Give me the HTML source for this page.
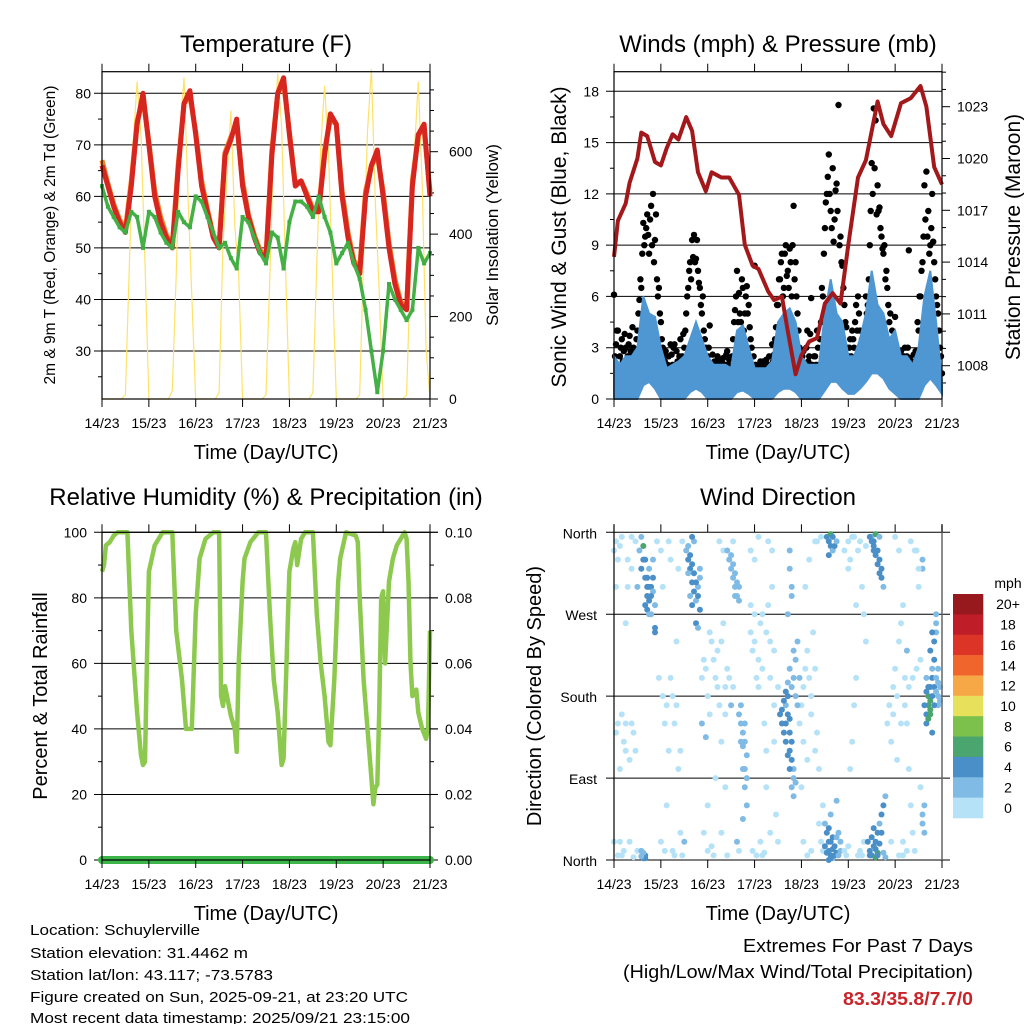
<!DOCTYPE html>
<html><head><meta charset="utf-8"><title>Station Meteogram</title>
<style>
html,body{margin:0;padding:0;background:#fff;}
svg{display:block;font-family:"Liberation Sans",sans-serif;}
</style></head>
<body>
<svg id="chart" width="1024" height="1024" viewBox="0 0 1024 1024" xmlns="http://www.w3.org/2000/svg">
<rect x="0" y="0" width="1024" height="1024" fill="#fff"/>
<g id="layer"></g>
<g font-size="15" fill="#000">
<text x="30" y="935" textLength="170" lengthAdjust="spacingAndGlyphs">Location: Schuylerville</text>
<text x="30" y="958" textLength="218" lengthAdjust="spacingAndGlyphs">Station elevation: 31.4462 m</text>
<text x="30" y="980" textLength="243" lengthAdjust="spacingAndGlyphs">Station lat/lon: 43.117; -73.5783</text>
<text x="30" y="1002" textLength="378" lengthAdjust="spacingAndGlyphs">Figure created on Sun, 2025-09-21, at 23:20 UTC</text>
<text x="30" y="1023" textLength="380" lengthAdjust="spacingAndGlyphs">Most recent data timestamp: 2025/09/21 23:15:00</text>
</g>
<g font-size="18" fill="#000" text-anchor="end">
<text x="973" y="952" textLength="230" lengthAdjust="spacingAndGlyphs">Extremes For Past 7 Days</text>
<text x="973" y="978" textLength="350" lengthAdjust="spacingAndGlyphs">(High/Low/Max Wind/Total Precipitation)</text>
<text x="973" y="1005" fill="#c8242a" font-weight="bold" textLength="130" lengthAdjust="spacingAndGlyphs">83.3/35.8/7.7/0</text>
</g>
</svg>
<script>
// ---------- data ----------
const dayLabels = ["14/23","15/23","16/23","17/23","18/23","19/23","20/23","21/23"];
const hours3 = [0,3,6,9,12,15,18,21,24,27,30,33,36,39,42,45,48,51,54,57,60,63,66,69,72,75,78,81,84,87,90,93,96,99,102,105,108,111,114,117,120,123,126,129,132,135,138,141,144,147,150,153,156,159,162,165,168];
const temp2m = [66,62,58,55,53,62,74,80,70,60,55,52,50,65,78,80.5,72,62,57,52,50,68,71,75,62,56,52,49,48,68,80,83,72,62,63,60,57,57,68,76,74,60,52,47,45,60,66,69,60,50,43,39,38,62,72,74,60];
const temp9m = [67,62.5,58.5,55.5,53.5,63,74.5,79,70.5,61,56,52.5,50.5,66,78,79.5,72.5,63,57.5,52.5,50.5,68.5,71.5,74,63,56.5,52.5,49.5,48.5,69,80,82,72.5,62.5,63,60.5,57.5,57.5,69,75,74,61,53,47.5,46,61,66,68,61,51,44,39.5,38.5,63,72,73,61];
const dewpt = [62,58,56,54,53,57,56,50,57,56,53,51,50,57,55,54,60,59,56,53,50,51,48,46,56,55,52,49,47,53,52,46,55,59,59,58,56,60,56,53,47,49,51,47,44,38,30,22,30,43,40,38,36,38,50,47,49];
const hours2 = [0,2,4,6,8,10,12,14,16,18,20,22,24,26,28,30,32,34,36,38,40,42,44,46,48,50,52,54,56,58,60,62,64,66,68,70,72,74,76,78,80,82,84,86,88,90,92,94,96,98,100,102,104,106,108,110,112,114,116,118,120,122,124,126,128,130,132,134,136,138,140,142,144,146,148,150,152,154,156,158,160,162,164,166,168];
const solar = [0,0,0,0,0,0,10,320,620,770,640,330,0,0,0,0,0,0,20,300,640,780,500,250,0,0,0,0,0,0,15,380,540,700,420,300,0,0,0,0,0,0,10,300,630,790,660,320,0,0,0,0,0,0,15,330,610,760,600,300,0,0,0,0,0,0,10,350,650,800,480,260,0,0,0,0,0,0,10,320,600,770,520,120,0];
const windHi = [2.5,2,2.5,2.5,3,6,5,4.8,3,1.8,2,2.2,2.5,3.5,4.5,3.5,2.5,2,2,2,1.8,4,4.3,3,1.8,1.8,1.8,2.2,4.5,5,5.3,4.5,2.5,2,2,2,5,7,5,4.5,2.5,2.5,3.5,5,7.5,5.5,5,3.5,4,2.5,2.5,2,3,6,7.5,4.5,1];
const windLo = [0,0,0,0,0,0.8,1,0.6,0,0,0,0,0,0.4,0.6,0.4,0,0,0,0,0,0.4,0.5,0.3,0,0,0,0,0.4,0.6,0.6,0.4,0,0,0,0,0.5,1,1,0.6,0.3,0.3,0.6,1,1.5,1.5,1.2,0.6,0.3,0,0,0,0,0.8,1.2,0.8,0.3];
const gust = [6.1,3.2,4,2.5,3.5,2.8,3,2.5,3.7,2.5,3,2,4,5.8,6.5,10.3,9.5,10.8,8.5,11.3,12,9.3,7,6.5,4.5,3,2.2,1.8,2.5,3.2,2,3.2,2.8,1.5,3.5,2.5,3,5,6.5,8,9.3,9.6,8.2,7.5,6.5,5,4,3,2.5,4.3,2,1.8,2.2,2.5,1.5,2,2.4,2,2.8,2.3,1.8,3.5,5.2,7.5,6.2,4.5,6.5,5,6.6,5.5,3.5,2,7.8,1.8,1.7,2.2,1.5,2,2.3,1.6,2,3.2,2.6,4.2,5.5,7,8.5,6.5,9,7.5,8.8,6,11.3,8,5,3,2,2.8,1.8,4,2.5,5.9,1.8,2.5,4,2,4.5,6,10,12,14.3,11,13.5,10.5,12.6,17.2,9.5,7.8,5.5,4.2,2.5,3.5,4,3,5.5,6,4,3.5,3,6,5.5,9,13.8,17,16.3,12.5,11.2,9.5,8.5,7,6.5,4.5,3,2.5,4.8,2,1.5,2.8,2,3,2.5,8.7,2,1.8,2.2,2.5,4,6,8,12.5,13.3,11,9,12,8,6,5,3,1.5];
const gust2 = [2.5,4,1.5,3,2.2,3.8,2,3.2,2.8,4.2,2.5,3.5,5,7,8.5,9,10,9.6,10.5,9,8,10.8,6,5,3.5,2.5,2.8,2,1.5,2.6,3,1.8,2.2,2.5,2,3.8,4,6,7.5,7,8.3,8,9.3,6.8,5.5,6,3.5,2.5,3,2,2.6,2.2,1.6,2,2.3,2.1,1.8,2.6,2,1.9,2.5,4.5,6,4.5,5,7,4,6,5,4.2,3,2.5,2,1.5,2,1.8,2.2,1.7,2,2.5,1.8,2.2,3.5,5.5,7,8,6,8.5,7.2,6.5,8,9,7,6,4,2.5,2.5,2,3,2.2,3.8,2,2.5,2,3,3.5,6.5,8.5,11.5,13,12,10,9.2,12.2,11,9,8,6.5,4.5,3,3,2.5,3.5,4.5,4,5,3,4,3.5,5,7,11,12,13.5,10.8,11,10,8.8,9,7.5,5.5,5,4,2,2.5,2.2,2,1.8,2.5,2,3,2.4,2,2.6,2.8,4.5,6,7.5,9.5,10.5,9.5,8.5,10,9.2,7,5.5,4,2.5];
const presHour = [0,2,6,8,12,14,17,21,24,27,30,33,37,40,43,47,50,55,59,64,67,71,74,79,82,86,89,93,96,100,104,108,112,116,120,125,129,135,138,142,147,152,157,160,164,168];
const presVal = [1014.3,1016.4,1017.4,1018.6,1020,1021.5,1021.3,1019.8,1019.6,1020.6,1021.4,1021.1,1022.4,1021.6,1019.2,1018.1,1019.2,1018.9,1018.9,1017.9,1015,1013.8,1013.6,1012.3,1011.8,1012,1010,1007.5,1008.6,1009.4,1009.6,1011.6,1012.2,1011.6,1015,1018.9,1019.9,1023.3,1022,1021.3,1023.2,1023.5,1024.2,1023,1019.5,1018.5];
const rhHour = [0,1,2,4,6,8,13,15,18,20,21,22,23,24,27,30,31,36,38,41,43,46,48,50,53,57,60,61,62,63,64,66,68,69,70,72,73,76,80,84,86,88,90,92,93,95,96,98,99,100,102,104,108,110,112,114,116,117,119,121,122,125,130,131,132,134,136,138,139,140,141,142,143,144,145,147,149,151,153,155,156,157,158,159,161,162,164,166,167,168];
const rhVal = [88,90,96,97,99,100,100,70,45,32,29,30,60,88,96,99,100,100,70,55,40,40,75,92,98,100,100,50,47,53,50,44,40,33,60,85,92,97,100,100,75,55,45,29,31,70,88,95,97,90,98,100,100,75,60,50,36,35,55,85,92,100,99,97,80,55,40,25,17,22,23,45,80,82,60,85,92,96,98,100,98,85,60,50,52,45,40,37,40,70];
const rainHour = [0,168];
const rainVal = [0,0];
const dirHour = [1,2,3,4,5,6,7,8,9,10,11,12,1,3,6,9,14,15,15,16,17,17,18,18,19,20,21,20,16,15,14,21,21,19,22,24,25,26,27,28,29,30,31,32,33,34,35,24,27,30,33,37,38,39,40,41,42,43,44,42,43,41,40,38,44,45,46,48,49,50,52,53,54,55,56,57,58,46,48,50,52,54,56,58,60,45,47,58,59,60,61,62,63,64,61,64,65,66,67,65,66,67,68,66,63,64,70,71,72,73,74,75,76,77,78,79,80,81,82,83,84,70,72,74,76,78,80,82,85,86,87,88,88,89,90,90,91,92,92,93,91,92,93,94,91,91,90,90,89,95,96,97,98,99,100,101,102,103,104,105,106,107,96,98,100,103,106,108,109,110,110,111,112,113,114,115,116,112,111,114,109,110,111,112,110,111,118,119,120,121,122,123,124,125,126,127,128,120,122,124,129,131,132,133,134,135,136,137,138,139,134,135,132,133,134,135,136,137,134,133,135,140,141,142,143,144,145,146,147,148,149,150,151,152,153,154,155,156,157,144,146,142,148,150,158,158,159,159,158,158,160,160,161,161,162,162,163,163,164,164,165,165,162,161,164,166,166,163,165];
const dirDeg = [350,330,20,5,130,150,300,110,355,140,120,10,140,100,260,320,355,345,330,310,300,290,285,320,300,295,280,330,5,2,10,255,250,270,350,340,300,150,170,120,200,10,5,240,100,30,350,20,60,180,320,340,330,320,305,295,285,300,275,260,255,350,355,315,310,200,220,180,160,240,200,230,170,130,260,190,210,30,60,15,90,350,340,5,170,150,135,340,330,320,310,300,290,285,350,160,150,140,130,170,100,80,60,45,20,10,250,230,270,200,190,260,210,150,120,280,240,300,170,50,20,340,330,355,5,80,30,130,160,150,140,130,170,180,155,120,110,100,90,85,190,200,220,240,290,300,340,320,270,150,170,130,210,110,200,160,250,120,140,40,20,10,80,300,330,350,355,40,30,20,10,5,25,15,8,30,10,2,50,65,355,350,345,340,335,358,10,5,15,100,130,170,200,340,350,5,20,320,355,280,240,10,5,15,20,30,40,50,60,70,3,8,355,345,335,325,315,310,358,350,340,150,170,130,190,210,110,240,260,280,200,150,100,60,30,10,340,300,80,355,340,20,5,230,50,40,60,30,320,330,160,150,180,170,165,190,200,210,220,240,250,260,175,155,190,195,170,140,200];
const dirSpd = [1,1,1,1,1,1,1,1,1,1,1,1,1,1,1,1,3,6,4,4,4,4,4,3,4,3,3,3,4,4,3,4,4,3,1,1,1,1,1,1,1,1,1,1,1,1,1,1,1,1,1,3,4,4,4,4,3,3,4,4,3,3,4,3,3,1,1,1,1,1,1,1,1,1,1,1,1,1,1,1,1,1,1,1,3,3,3,2,2,2,2,3,3,2,1,3,3,3,2,2,2,3,3,2,2,1,1,1,1,1,1,1,1,1,1,1,1,1,1,1,1,1,1,1,1,1,1,1,4,4,4,4,3,4,4,4,4,3,3,2,3,2,2,2,3,3,3,3,2,1,1,1,1,1,1,1,1,1,1,1,1,1,1,1,1,1,1,3,4,5,4,4,4,4,4,3,3,3,3,3,5,4,4,3,4,6,1,1,1,1,1,1,1,1,1,1,1,1,1,1,1,4,4,5,4,4,3,4,4,3,6,6,3,4,4,4,4,4,6,5,4,1,1,1,1,1,1,1,1,1,1,1,1,1,1,1,1,1,1,1,1,1,1,2,2,2,2,2,2,2,5,5,6,7,6,4,4,3,4,4,3,3,7,6,4,3,2,4,3];
const dirHourB = [0,0,1,2,2,3,4,4,5,6,7,8,9,10,11,12,13,14,16,17,18,19,20,16,17,18,15,16,14,23,25,26,28,29,31,32,34,35,36,38,39,40,41,42,43,39,40,44,47,49,51,53,55,57,59,61,48,51,55,57,60,61,62,63,62,64,65,66,67,68,67,68,70,72,74,76,78,80,82,84,71,73,75,77,79,81,86,87,88,89,90,91,89,90,91,92,88,89,90,92,93,94,95,97,99,101,103,105,107,97,99,101,104,108,109,110,111,112,113,114,115,116,113,114,112,110,111,118,120,121,123,125,126,127,128,129,130,131,132,133,134,135,136,137,138,139,131,132,133,136,137,138,136,143,145,147,149,151,153,155,157,146,148,150,152,154,156,159,160,161,162,163,164,165,166,167,160,162,163,165,166,167];
const dirDegB = [340,20,300,5,150,345,160,355,10,120,330,20,150,3,350,300,340,320,330,310,300,290,310,280,275,270,8,2,4,200,180,10,350,330,150,170,120,5,20,345,335,325,315,305,290,290,280,320,210,250,220,190,240,160,200,190,10,5,30,80,335,325,315,305,290,300,130,125,150,115,100,90,280,240,220,270,250,200,230,190,10,5,20,8,350,340,165,175,150,160,140,130,115,100,80,70,185,195,210,230,180,170,200,190,230,180,210,100,60,20,5,10,350,15,8,35,20,12,5,25,5,20,345,350,355,0,2,340,350,330,355,5,10,300,270,345,20,5,25,35,12,5,18,30,8,3,355,350,340,330,320,300,355,160,180,150,170,190,200,210,220,5,20,10,350,340,320,170,185,190,160,180,170,185,180,175,200,230,250,270,210,190];
const dirSpdB = [1,1,1,1,1,1,1,1,1,1,1,1,1,1,1,2,3,4,4,4,4,4,4,4,4,3,3,4,3,1,1,1,1,1,1,1,1,1,2,3,4,4,4,4,4,3,4,3,1,1,1,1,1,1,1,1,1,1,1,1,2,2,2,2,2,3,3,3,3,2,3,2,1,1,1,1,1,1,1,1,1,1,1,1,1,1,4,4,4,4,4,4,4,4,3,3,4,3,2,2,2,2,2,1,1,1,1,1,1,1,1,1,1,4,4,4,4,4,4,3,3,3,4,3,4,4,4,1,1,1,1,1,1,1,1,1,4,4,4,4,4,4,4,4,3,3,4,4,4,4,4,3,3,1,1,1,1,1,1,1,1,1,1,1,1,1,1,4,4,4,6,5,4,3,3,3,3,4,4,3,3,3];
const legendLabels = ["20+","18","16","14","12","10","8","6","4","2","0"];
const legendColors = ["#97181d","#bf1d27","#dd3428","#f0652b","#f6a847","#e6e05b","#7cc14c","#4aa56e","#4a8fc7","#80bbe5","#b6e2f8"];

// ---------- helpers ----------
const NS = "http://www.w3.org/2000/svg";
const layer = document.getElementById("layer");
function mk(tag, attrs, parent) {
  const e = document.createElementNS(NS, tag);
  for (const k in attrs) e.setAttribute(k, attrs[k]);
  (parent || layer).appendChild(e);
  return e;
}
function txt(s, x, y, attrs, parent) {
  const e = mk("text", Object.assign({x: x, y: y}, attrs), parent);
  e.textContent = s;
  return e;
}
function linScale(d0, d1, r0, r1) { return v => r0 + (v - d0) * (r1 - r0) / (d1 - d0); }
function pathFrom(xs, ys, fx, fy) {
  let d = "";
  for (let i = 0; i < xs.length; i++) d += (i ? "L" : "M") + fx(xs[i]).toFixed(1) + " " + fy(ys[i]).toFixed(1);
  return d;
}
function timeAxis(g, x0, x1, yTop, yBot, fx) {
  for (let i = 0; i < dayLabels.length; i++) {
    const x = fx(i * 24);
    const tk = mk("line", {x1: x, x2: x, y1: yTop - 8, y2: yTop, stroke: "#000", "stroke-width": 1}, g);
    
    
    const bt = mk("line", {x1: x, x2: x, y1: yBot, y2: yBot + 8, stroke: "#000", "stroke-width": 1}, g);
    
    
    const t = txt(dayLabels[i], x, yBot + 29, {"font-size": 14, "text-anchor": "middle"}, g);
    
    
  }
  const xt = txt("Time (Day/UTC)", (x0 + x1) / 2, yBot + 60, {"font-size": 20, "text-anchor": "middle"}, g);
  
  
}
function frame(g, x0, x1, y0, y1) {
  const r = mk("rect", {x: x0, y: y0, width: x1 - x0, height: y1 - y0, fill: "none", stroke: "#000", "stroke-width": 1.2}, g);
  
  
}
function grp(name) {
  const g = mk("g", {});
  
  
  return g;
}

// ================= Panel 1: Temperature =================
(function(){
  const g = grp("temperature-panel");
  const X0 = 102, X1 = 430, YT = 71.7, YB = 399;
  const fx = linScale(0, 168, X0, X1);
  const fy = linScale(30, 80, 351, 93.3);
  const fs = linScale(0, 600, 399, 151.7);
  const ti = txt("Temperature (F)", 266, 52, {"font-size": 24, "text-anchor": "middle"}, g);
  
  
  for (let v = 30; v <= 80; v += 10) {
    const gl = mk("line", {x1: X0 - 8, x2: X1, y1: fy(v), y2: fy(v), stroke: "#000", "stroke-width": 1}, g);
    
    
    const tl = txt(String(v), X0 - 11, fy(v) + 5, {"font-size": 14, "text-anchor": "end"}, g);
    
    
  }
  for (let v = 25; v <= 80; v += 10) {
    const m = mk("line", {x1: X0 - 4, x2: X0, y1: fy(v), y2: fy(v), stroke: "#000"}, g);
    
    
  }
  for (let v = 0; v <= 750; v += 50) {
    const major = v % 200 === 0 && v <= 600;
    const m = mk("line", {x1: X1, x2: X1 + (major ? 8 : 4), y1: fs(v), y2: fs(v), stroke: "#000"}, g);
    
    
    if (major) {
      const tl = txt(String(v), X1 + 19, fs(v) + 5, {"font-size": 14}, g);
      
      
    }
  }
  const s = mk("path", {d: pathFrom(hours2, solar, fx, fs), fill: "none", stroke: "#fde26a", "stroke-width": 1.2}, g);
  
  
  const o = mk("path", {d: pathFrom(hours3, temp9m, fx, fy), fill: "none", stroke: "#f47c22", "stroke-width": 5, "stroke-linejoin": "round"}, g);
  
  
  const r = mk("path", {d: pathFrom(hours3, temp2m, fx, fy), fill: "none", stroke: "#d7251f", "stroke-width": 5, "stroke-linejoin": "round"}, g);
  
  
  const d = mk("path", {d: pathFrom(hours3, dewpt, fx, fy), fill: "none", stroke: "#44b046", "stroke-width": 3.5, "stroke-linejoin": "round"}, g);
  
  
  for (let i = 0; i < hours3.length; i++) {
    const c = mk("rect", {x: (fx(hours3[i]) - 2).toFixed(1), y: (fy(dewpt[i]) - 2).toFixed(1), width: 4, height: 4, fill: "#3fae42"}, g);
    
    
  }
  frame(g, X0, X1, YT, YB);
  timeAxis(g, X0, X1, YT, YB, fx);
  const yl = txt("2m & 9m T (Red, Orange) & 2m Td (Green)", 0, 0, {"font-size": 15.5, "text-anchor": "middle", transform: "translate(55,235) rotate(-90)"}, g);
  
  
  const yr = txt("Solar Insolation (Yellow)", 0, 0, {"font-size": 17, "text-anchor": "middle", transform: "translate(498,235) rotate(-90)"}, g);
  
  
})();

// ================= Panel 2: Winds & Pressure =================
(function(){
  const g = grp("wind-pressure-panel");
  const X0 = 614, X1 = 942, YT = 71.7, YB = 399;
  const fx = linScale(0, 168, X0, X1);
  const fy = linScale(0, 18, 399, 91.3);
  const fp = linScale(1008, 1023, 365.7, 106.7);
  const ti = txt("Winds (mph) & Pressure (mb)", 778, 52, {"font-size": 24, "text-anchor": "middle"}, g);
  
  
  for (let v = 0; v <= 18; v += 3) {
    const gl = mk("line", {x1: X0 - 8, x2: X1, y1: fy(v), y2: fy(v), stroke: "#000", "stroke-width": 1}, g);
    
    
    const tl = txt(String(v), X0 - 15, fy(v) + 5, {"font-size": 14, "text-anchor": "end"}, g);
    
    
  }
  for (let v = 1.5; v <= 18; v += 3) {
    const m = mk("line", {x1: X0 - 4, x2: X0, y1: fy(v), y2: fy(v), stroke: "#000"}, g);
    
    
  }
  for (let v = 1007; v <= 1025; v += 1) {
    const major = (v - 1008) % 3 === 0 && v <= 1023 && v >= 1008;
    const y = fp(v);
    if (y < YT || y > YB) continue;
    const m = mk("line", {x1: X1, x2: X1 + (major ? 8 : 4), y1: y, y2: y, stroke: "#000"}, g);
    
    
    if (major) {
      const tl = txt(String(v), X1 + 15, y + 5, {"font-size": 14}, g);
      
      
    }
  }
  for (let i = 0; i < gust.length; i++) {
    const c = mk("circle", {cx: fx(i).toFixed(1), cy: fy(gust[i]).toFixed(1), r: 3.2, fill: "#000"}, g);
    
    
  }
  for (let i = 0; i < gust2.length; i++) {
    const c = mk("circle", {cx: fx(i + 0.5).toFixed(1), cy: fy(gust2[i]).toFixed(1), r: 3.2, fill: "#000"}, g);
    
    
  }
  let d = "";
  for (let i = 0; i < hours3.length; i++) d += (i ? "L" : "M") + fx(hours3[i]).toFixed(1) + " " + fy(windHi[i]).toFixed(1);
  for (let i = hours3.length - 1; i >= 0; i--) d += "L" + fx(hours3[i]).toFixed(1) + " " + fy(windLo[i]).toFixed(1);
  const band = mk("path", {d: d + "Z", fill: "#4f97d3", stroke: "#4f97d3", "stroke-width": 2}, g);
  
  
  const p = mk("path", {d: pathFrom(presHour, presVal, fx, fp), fill: "none", stroke: "#a3191b", "stroke-width": 4, "stroke-linejoin": "round"}, g);
  
  
  frame(g, X0, X1, YT, YB);
  timeAxis(g, X0, X1, YT, YB, fx);
  const yl = txt("Sonic Wind & Gust (Blue, Black)", 0, 0, {"font-size": 21, "text-anchor": "middle", transform: "translate(566,237) rotate(-90)"}, g);
  
  
  const yr = txt("Station Pressure (Maroon)", 0, 0, {"font-size": 21, "text-anchor": "middle", transform: "translate(1020,237) rotate(-90)"}, g);
  
  
})();

// ================= Panel 3: RH & Precip =================
(function(){
  const g = grp("humidity-panel");
  const X0 = 102, X1 = 430, YT = 532.3, YB = 860;
  const fx = linScale(0, 168, X0, X1);
  const fy = linScale(0, 100, 860, 532.3);
  const fr = linScale(0, 0.1, 860, 532.3);
  const ti = txt("Relative Humidity (%) & Precipitation (in)", 266, 505, {"font-size": 24, "text-anchor": "middle"}, g);
  
  
  for (let v = 0; v <= 100; v += 20) {
    const gl = mk("line", {x1: X0 - 8, x2: X1 + 8, y1: fy(v), y2: fy(v), stroke: "#000", "stroke-width": 1}, g);
    
    
    const tl = txt(String(v), X0 - 15, fy(v) + 5, {"font-size": 14, "text-anchor": "end"}, g);
    
    
  }
  for (let v = 10; v <= 100; v += 20) {
    const m = mk("line", {x1: X0 - 4, x2: X0, y1: fy(v), y2: fy(v), stroke: "#000"}, g);
    
    
  }
  for (let k = 0; k <= 10; k++) {
    const v = k / 100;
    const major = k % 2 === 0;
    const m = mk("line", {x1: X1, x2: X1 + (major ? 8 : 4), y1: fr(v), y2: fr(v), stroke: "#000"}, g);
    
    
    if (major) {
      const tl = txt(v.toFixed(2), X1 + 15, fr(v) + 5, {"font-size": 14}, g);
      
      
    }
  }
  const rh = mk("path", {d: pathFrom(rhHour, rhVal, fx, fy), fill: "none", stroke: "#8dc94f", "stroke-width": 4.5, "stroke-linejoin": "round"}, g);
  
  
  const rn = mk("path", {d: pathFrom(rainHour, rainVal, fx, fr), fill: "none", stroke: "#3db54a", "stroke-width": 8, "stroke-linecap": "round"}, g);
  
  
  frame(g, X0, X1, YT, YB);
  timeAxis(g, X0, X1, YT, YB, fx);
  const yl = txt("Percent & Total Rainfall", 0, 0, {"font-size": 20, "text-anchor": "middle", transform: "translate(47,696) rotate(-90)"}, g);
  
  
})();

// ================= Panel 4: Wind Direction =================
(function(){
  const g = grp("wind-direction-panel");
  const X0 = 614, X1 = 942, YT = 532.3, YB = 860;
  const fx = linScale(0, 168, X0, X1);
  const fy = linScale(0, 360, 860, 532.3);
  const ti = txt("Wind Direction", 778, 505, {"font-size": 24, "text-anchor": "middle"}, g);
  
  
  const dirNames = ["North","East","South","West","North"];
  for (let i = 0; i < 5; i++) {
    const v = i * 90;
    const gl = mk("line", {x1: X0 - 8, x2: X1 + 8, y1: fy(v), y2: fy(v), stroke: "#000", "stroke-width": 1}, g);
    
    
    const tl = txt(dirNames[i], X0 - 17, fy(v) + 6, {"font-size": 14, "text-anchor": "end"}, g);
    
    
  }
  function drawPts(hs, ds, ss) {
    for (let i = 0; i < hs.length; i++) {
      const bin = Math.min(10, Math.floor(ss[i] / 2));
      const col = legendColors[10 - bin];
      const c = mk("circle", {cx: fx(hs[i]).toFixed(1), cy: fy(ds[i]).toFixed(1), r: 3, fill: col}, g);
      
      
    }
  }
  drawPts(dirHour, dirDeg, dirSpd);
  drawPts(dirHourB, dirDegB, dirSpdB);
  const rl = mk("line", {x1: X1, x2: X1, y1: YT - 8, y2: YB, stroke: "#666", "stroke-width": 1.5}, g);
  
  
  const ll = mk("line", {x1: X0, x2: X0, y1: YT - 8, y2: YB, stroke: "#000", "stroke-width": 1.2}, g);
  
  
  timeAxis(g, X0, X1, YT, YB, fx);
  const yl = txt("Direction (Colored By Speed)", 0, 0, {"font-size": 20, "text-anchor": "middle", transform: "translate(541,696) rotate(-90)"}, g);
  
  
  const lg = mk("g", {}, g);
  
  
  const u = txt("mph", 1008, 588, {"font-size": 14, "text-anchor": "middle"}, lg);
  
  
  const bh = (818 - 594) / legendLabels.length;
  for (let i = 0; i < legendLabels.length; i++) {
    const r = mk("rect", {x: 953, y: 594 + i * bh, width: 30.3, height: bh + 0.3, fill: legendColors[i]}, lg);
    
    
    const t = txt(legendLabels[i], 1008, 594 + i * bh + bh / 2 + 5, {"font-size": 14, "text-anchor": "middle"}, lg);
    
    
  }
})();
</script>
</body></html>
